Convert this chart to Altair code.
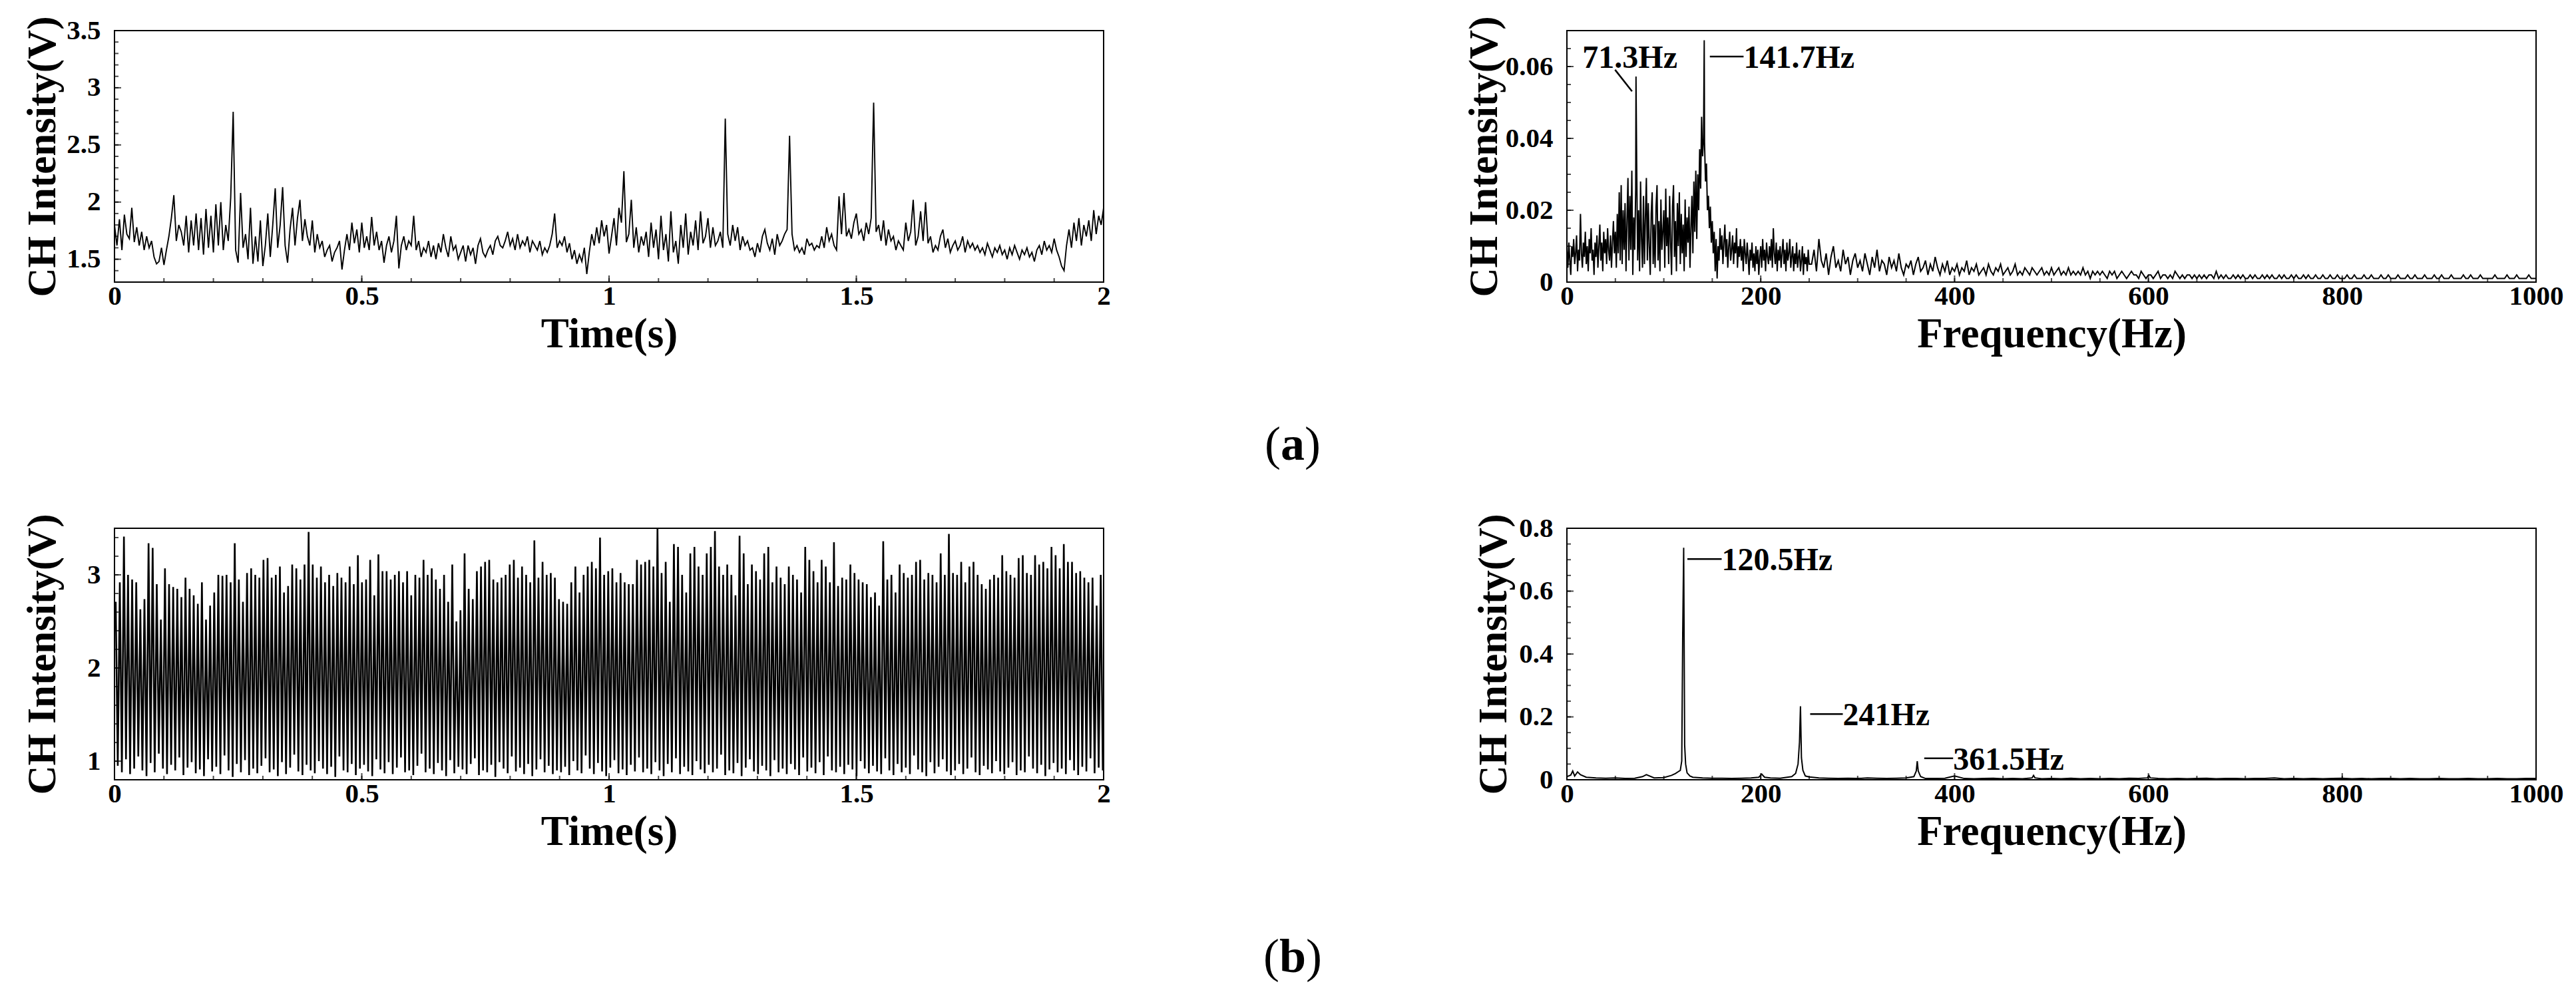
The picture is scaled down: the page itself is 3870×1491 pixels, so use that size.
import altair as alt
import numpy as np
import pandas as pd

FONT = "Liberation Serif"

# ---------------- (a) time signal, sampled every 0.005 s ----------------
ta_dt = 0.005
ta_values = [
    1.80,1.62,1.85,1.58,1.89,1.72,1.68,1.95,1.65,1.78,1.62,1.74,1.58,1.70,1.60,1.66,1.52,1.46,1.48,1.60,
    1.45,1.58,1.70,1.86,2.06,1.66,1.80,1.74,1.62,1.88,1.56,1.84,1.62,1.90,1.58,1.86,1.54,1.94,1.60,1.88,
    1.56,1.98,1.62,2.00,1.58,1.80,1.66,2.04,2.79,1.58,1.47,2.08,1.60,1.72,1.50,1.95,1.46,1.70,1.48,1.84,
    1.44,1.62,1.90,1.52,1.80,2.12,1.60,1.80,2.13,1.62,1.47,1.76,1.95,1.62,1.86,2.02,1.66,1.85,1.70,1.62,
    1.84,1.56,1.72,1.60,1.66,1.52,1.58,1.62,1.48,1.56,1.60,1.66,1.41,1.58,1.72,1.58,1.82,1.64,1.76,1.56,
    1.82,1.60,1.70,1.58,1.87,1.62,1.74,1.58,1.66,1.47,1.62,1.70,1.56,1.66,1.88,1.42,1.62,1.70,1.58,1.66,
    1.62,1.88,1.58,1.66,1.52,1.60,1.56,1.66,1.52,1.62,1.50,1.64,1.56,1.72,1.60,1.52,1.70,1.58,1.62,1.50,
    1.56,1.62,1.48,1.62,1.54,1.60,1.46,1.62,1.68,1.56,1.52,1.58,1.62,1.54,1.66,1.70,1.62,1.60,1.66,1.74,
    1.62,1.68,1.58,1.72,1.60,1.66,1.62,1.70,1.56,1.66,1.62,1.58,1.66,1.54,1.60,1.56,1.62,1.72,1.90,1.60,
    1.66,1.62,1.70,1.56,1.64,1.50,1.58,1.46,1.54,1.48,1.60,1.37,1.56,1.72,1.62,1.78,1.64,1.84,1.70,1.80,
    1.55,1.70,1.86,1.62,1.95,1.82,2.27,1.65,1.72,2.02,1.60,1.78,1.56,1.70,1.62,1.74,1.52,1.82,1.60,1.76,
    1.50,1.88,1.58,1.72,1.48,1.92,1.56,1.66,1.46,1.80,1.60,1.90,1.54,1.74,1.62,1.84,1.58,1.92,1.64,1.70,
    1.86,1.60,1.78,1.62,1.66,1.74,1.60,2.73,1.72,1.62,1.80,1.66,1.78,1.58,1.70,1.62,1.66,1.58,1.60,1.52,
    1.64,1.56,1.70,1.76,1.64,1.58,1.68,1.54,1.72,1.62,1.66,1.72,1.76,2.58,1.72,1.58,1.62,1.56,1.60,1.54,
    1.68,1.62,1.64,1.58,1.62,1.60,1.70,1.60,1.78,1.66,1.72,1.62,1.58,2.05,1.72,2.08,1.70,1.76,1.68,1.82,
    1.90,1.72,1.76,1.66,1.82,1.72,1.86,2.87,1.74,1.80,1.66,1.84,1.62,1.76,1.66,1.70,1.58,1.66,1.62,1.58,
    1.82,1.66,1.74,2.02,1.62,1.70,1.92,1.66,2.00,1.64,1.70,1.56,1.62,1.58,1.70,1.76,1.60,1.68,1.56,1.62,
    1.66,1.58,1.62,1.70,1.56,1.66,1.60,1.64,1.58,1.62,1.56,1.60,1.54,1.64,1.58,1.52,1.60,1.56,1.62,1.54,
    1.58,1.50,1.60,1.54,1.62,1.56,1.50,1.58,1.54,1.60,1.52,1.56,1.48,1.58,1.62,1.54,1.66,1.58,1.62,1.56,
    1.68,1.58,1.52,1.44,1.40,1.62,1.76,1.60,1.82,1.66,1.86,1.62,1.80,1.70,1.84,1.66,1.93,1.72,1.88,1.80,
    1.95,
]

# ---------------- (b) time signal: one crest and one trough per 120.5 Hz cycle ----------------
tb_freq = 120.5
tb_peaks = [
    2.71,2.92,3.41,3.00,2.95,2.92,2.63,2.74,3.34,3.29,2.90,2.52,
    3.07,2.90,2.87,2.85,2.76,2.97,2.85,2.78,2.69,2.92,2.52,2.67,
    2.81,3.00,2.99,3.00,2.92,3.34,2.95,2.71,3.02,3.07,3.00,2.97,
    3.16,3.18,2.97,3.00,3.09,2.81,2.88,3.11,3.07,2.95,3.11,3.46,
    3.11,2.97,3.09,2.92,3.00,2.88,3.02,2.97,2.92,3.09,2.90,3.21,
    2.92,2.95,3.16,2.78,3.22,3.04,3.04,2.95,3.00,3.04,2.92,3.04,
    2.78,3.00,2.97,3.16,3.00,3.07,2.95,2.85,3.00,2.71,3.11,2.50,
    2.62,3.23,2.85,2.74,3.04,3.09,3.14,3.16,2.95,2.92,2.97,3.00,
    3.11,3.16,2.97,3.09,3.00,2.92,3.37,2.97,3.14,3.00,3.02,2.97,
    2.74,2.71,2.69,2.92,3.09,2.81,3.00,3.09,3.14,3.07,3.40,3.00,
    3.04,3.07,2.92,3.02,2.92,2.90,2.90,3.16,3.11,3.14,3.16,3.09,
    3.50,3.02,3.14,2.71,3.33,3.30,3.00,2.81,3.23,3.30,3.09,3.00,
    3.23,3.30,3.47,3.09,3.00,3.11,3.00,2.78,3.42,3.23,2.90,3.11,
    3.04,2.95,3.23,3.30,2.92,3.09,2.97,2.90,3.09,3.00,2.95,2.81,
    3.30,3.16,3.04,2.92,3.16,3.09,2.92,3.35,2.88,2.97,2.95,3.11,
    3.02,2.95,2.92,2.90,2.76,2.81,2.67,3.36,2.95,3.00,2.81,3.11,
    3.02,2.97,3.00,3.14,3.16,2.95,3.02,3.00,2.92,3.23,3.00,3.44,
    3.02,3.00,3.14,2.92,3.09,3.14,3.00,2.90,2.85,2.95,3.00,2.97,
    3.21,3.04,3.00,2.97,3.18,3.21,3.02,3.00,3.21,3.11,3.14,3.07,
    3.30,3.21,3.07,3.33,3.14,3.14,3.02,3.04,2.97,2.92,2.97,2.67,3.00,
]
tb_troughs = [
    0.95,0.88,1.02,0.86,0.92,1.05,0.90,0.84,0.98,0.88,1.08,0.92,
    0.86,0.96,0.90,1.04,0.85,0.93,0.99,0.87,0.91,0.84,1.02,0.89,
    0.94,0.86,1.06,0.90,0.83,0.97,0.88,1.01,0.85,0.92,0.87,0.95,
    1.03,0.88,0.91,0.84,0.99,0.86,0.93,1.07,0.89,0.85,0.96,0.90,
    0.87,1.00,0.92,0.86,0.94,0.83,1.05,0.90,0.88,0.97,0.85,0.92,
    0.96,0.89,0.84,1.02,0.91,0.87,0.99,0.86,0.93,1.04,0.88,0.90,
    0.85,0.95,1.08,0.88,0.92,0.86,0.98,0.90,0.84,1.01,0.87,0.94,
    0.91,0.86,0.97,1.03,0.85,0.90,0.88,0.96,0.83,0.99,0.92,0.87,
    1.05,0.89,0.93,0.86,0.97,0.84,0.91,1.02,0.88,0.95,0.86,0.90,
    0.88,0.94,0.85,1.00,0.90,0.87,1.06,0.92,0.86,0.98,0.89,0.84,
    0.93,1.01,0.87,0.91,0.85,0.96,0.89,1.04,0.88,0.92,0.86,0.99,
    0.90,0.84,0.97,0.88,1.03,0.86,0.94,0.89,0.85,1.00,0.91,0.87,
    0.96,0.88,0.92,1.07,0.85,0.90,0.87,0.98,0.84,0.93,1.02,0.89,
    0.86,0.95,0.90,0.84,1.01,0.88,0.92,0.86,0.97,0.91,0.85,1.04,
    0.89,0.93,0.87,0.99,0.85,1.05,0.90,0.88,0.94,0.86,0.96,0.91,
    0.84,1.00,0.92,0.87,0.95,0.89,0.86,1.03,0.90,0.85,0.97,0.88,
    0.93,0.86,1.06,0.91,0.88,0.84,0.99,0.87,0.94,1.02,0.89,0.85,
    0.90,0.97,0.86,0.92,1.04,0.88,0.85,0.95,0.91,0.87,1.00,0.89,
    0.86,0.93,0.99,0.85,0.90,0.88,1.05,0.92,0.87,0.96,0.84,0.91,
    0.98,0.88,0.92,0.86,1.01,0.90,0.85,0.94,0.89,1.03,0.87,0.93,0.90,
]

# ---------------- (a) spectrum ----------------
fa_low_step = 1.0      # 0 .. 250 Hz
fa_low = [
    0.009,0.004,0.011,0.006,0.002,0.010,0.007,0.012,0.005,0.008,
    0.013,0.003,0.009,0.006,0.019,0.008,0.004,0.011,0.007,0.014,
    0.005,0.010,0.003,0.012,0.008,0.015,0.006,0.009,0.002,0.011,
    0.007,0.013,0.004,0.010,0.016,0.006,0.011,0.003,0.014,0.008,
    0.012,0.005,0.015,0.009,0.006,0.013,0.004,0.011,0.017,0.008,
    0.014,0.004,0.019,0.008,0.025,0.006,0.027,0.005,0.020,0.009,
    0.022,0.003,0.017,0.029,0.006,0.024,0.009,0.031,0.002,0.018,
    0.009,0.026,0.033,0.006,0.020,0.003,0.028,0.012,0.004,0.024,
    0.005,0.018,0.029,0.006,0.022,0.010,0.002,0.019,0.025,0.005,
    0.016,0.004,0.021,0.027,0.006,0.017,0.003,0.023,0.009,0.014,
    0.020,0.004,0.026,0.010,0.018,0.005,0.024,0.011,0.002,0.021,
    0.027,0.007,0.017,0.003,0.022,0.010,0.025,0.005,0.019,0.008,
    0.016,0.003,0.023,0.007,0.018,0.011,0.021,0.004,0.015,0.024,
    0.008,0.028,0.014,0.031,0.012,0.030,0.020,0.037,0.026,0.046,
    0.035,0.040,0.039,0.028,0.033,0.020,0.024,0.015,0.021,0.011,
    0.017,0.008,0.014,0.003,0.012,0.001,0.010,0.006,0.015,0.009,
    0.013,0.005,0.011,0.016,0.007,0.012,0.004,0.010,0.014,0.006,
    0.009,0.013,0.005,0.011,0.008,0.015,0.004,0.010,0.007,0.012,
    0.006,0.010,0.003,0.012,0.008,0.005,0.011,0.007,0.002,0.009,
    0.006,0.011,0.004,0.008,0.003,0.010,0.005,0.009,0.002,0.007,
    0.010,0.004,0.012,0.006,0.009,0.003,0.011,0.007,0.005,0.010,
    0.006,0.012,0.004,0.015,0.008,0.005,0.011,0.003,0.009,0.006,
    0.010,0.004,0.008,0.012,0.005,0.009,0.003,0.011,0.006,0.008,
    0.012,0.004,0.007,0.010,0.003,0.008,0.005,0.011,0.004,0.007,
    0.009,0.003,0.006,0.010,0.002,0.008,0.005,0.007,0.003,0.009,
    0.005,
]
fa_high_start = 252.5  # 252.5 .. 1000 Hz
fa_high_step = 2.5
fa_high = [
    0.005,0.009,0.003,0.012,0.006,0.004,0.008,0.002,0.007,0.010,0.004,0.006,0.003,0.009,0.005,0.007,0.002,0.006,0.008,0.004,
    0.006,0.003,0.008,0.005,0.002,0.007,0.004,0.009,0.003,0.006,0.005,0.002,0.007,0.004,0.006,0.003,0.008,0.004,0.002,0.005,
    0.004,0.006,0.002,0.005,0.007,0.003,0.004,0.006,0.002,0.005,0.003,0.007,0.004,0.002,0.005,0.003,0.006,0.002,0.004,0.003,
    0.005,0.002,0.004,0.003,0.006,0.002,0.004,0.003,0.005,0.002,0.003,0.004,0.002,0.005,0.003,0.002,0.004,0.003,0.005,0.002,
    0.003,0.004,0.002,0.003,0.005,0.002,0.003,0.002,0.004,0.003,0.002,0.004,0.003,0.002,0.003,0.004,0.002,0.003,0.002,0.004,
    0.002,0.003,0.004,0.002,0.003,0.002,0.004,0.002,0.003,0.002,0.003,0.002,0.004,0.002,0.003,0.001,0.003,0.002,0.003,0.002,
    0.003,0.002,0.001,0.003,0.002,0.003,0.001,0.002,0.003,0.002,0.001,0.002,0.003,0.002,0.002,0.001,0.003,0.002,0.001,0.002,
    0.002,0.001,0.002,0.003,0.001,0.002,0.002,0.001,0.002,0.001,0.003,0.002,0.001,0.002,0.001,0.002,0.002,0.001,0.002,0.001,
    0.002,0.001,0.002,0.001,0.002,0.002,0.001,0.003,0.001,0.002,0.001,0.002,0.001,0.001,0.002,0.001,0.002,0.001,0.002,0.001,
    0.001,0.002,0.001,0.002,0.001,0.001,0.002,0.001,0.002,0.001,0.002,0.001,0.001,0.002,0.001,0.002,0.001,0.001,0.002,0.001,
    0.002,0.001,0.001,0.002,0.001,0.002,0.001,0.001,0.002,0.001,0.001,0.002,0.001,0.001,0.002,0.001,0.001,0.002,0.001,0.001,
    0.001,0.002,0.001,0.001,0.002,0.001,0.001,0.001,0.002,0.001,0.001,0.002,0.001,0.001,0.001,0.002,0.001,0.001,0.002,0.001,
    0.001,0.001,0.002,0.001,0.001,0.001,0.002,0.001,0.001,0.002,0.001,0.001,0.001,0.002,0.001,0.001,0.001,0.002,0.001,0.001,
    0.002,0.001,0.001,0.001,0.002,0.001,0.001,0.001,0.001,0.002,0.001,0.001,0.002,0.001,0.001,0.001,0.002,0.001,0.001,0.001,
    0.001,0.001,0.002,0.001,0.001,0.001,0.001,0.002,0.001,0.001,0.001,0.002,0.001,0.001,0.001,0.001,0.002,0.001,0.001,0.001,
]
fa_peak_f = [71.3, 141.7]
fa_peak_a = [0.0572, 0.0673]

# ---------------- (b) spectrum ----------------
fb_base_step = 10.0    # 0 .. 1000 Hz
fb_base = [
    0.010,0.012,0.008,0.006,0.005,0.006,0.004,0.005,0.008,0.006,
    0.007,0.012,0.015,0.008,0.006,0.005,0.005,0.004,0.005,0.006,
    0.014,0.006,0.005,0.008,0.010,0.009,0.006,0.005,0.004,0.005,
    0.004,0.006,0.005,0.004,0.005,0.006,0.007,0.004,0.004,0.005,
    0.012,0.004,0.003,0.004,0.005,0.003,0.004,0.003,0.004,0.003,
    0.004,0.003,0.005,0.003,0.004,0.003,0.004,0.003,0.005,0.004,
    0.006,0.004,0.003,0.004,0.003,0.004,0.005,0.003,0.004,0.004,
    0.003,0.004,0.004,0.006,0.003,0.004,0.003,0.004,0.003,0.004,
    0.005,0.003,0.004,0.003,0.004,0.004,0.003,0.004,0.003,0.003,
    0.004,0.003,0.003,0.004,0.003,0.003,0.004,0.003,0.003,0.004,
    0.004,
]
fb_peak_f = [4, 6, 8, 11, 14, 78, 82, 108, 112, 115, 117, 118.5, 119.5, 120.5, 121.5, 122.5, 124, 127,
             198, 201, 204, 232, 236, 238.5, 240, 241, 242, 243.5, 246, 358, 360.5, 361.5, 362.5, 365,
             480, 481.5, 483, 599, 600.5, 602]
fb_peak_a = [0.015, 0.028, 0.012, 0.025, 0.016, 0.010, 0.016, 0.014, 0.020, 0.026, 0.030, 0.060, 0.460,
             0.738, 0.110, 0.050, 0.022, 0.012, 0.008, 0.018, 0.008, 0.010, 0.020, 0.050, 0.120, 0.234,
             0.070, 0.030, 0.012, 0.010, 0.028, 0.059, 0.028, 0.010, 0.006, 0.014, 0.006, 0.006, 0.014,
             0.006]

# ---------------- annotations ----------------
ann_a_text = ["71.3Hz", "141.7Hz"]
ann_a_x = [16.0, 182.3]
ann_a_y = [0.0597, 0.0597]
lead_a_x = [49.7, 147.5]
lead_a_x2 = [67.2, 182.3]
lead_a_y = [0.0591, 0.0628]
lead_a_y2 = [0.0531, 0.0628]

ann_b_text = ["120.5Hz", "241Hz", "361.5Hz"]
ann_b_x = [159.7, 284.7, 398.5]
ann_b_y = [0.666, 0.173, 0.031]
lead_b_x = [124.3, 251.0, 368.7]
lead_b_x2 = [159.7, 284.7, 398.5]
lead_b_y = [0.702, 0.209, 0.068]

panel_letters = ["a", "b"]

# ---------------- axis ticks ----------------
t_major = [0, 0.5, 1, 1.5, 2]
t_minor = [round(0.1 * i, 1) for i in range(21)]
f_major = [0, 200, 400, 600, 800, 1000]
f_minor = [50 * i for i in range(21)]
ya_major = [1.5, 2, 2.5, 3, 3.5]
ya_minor = [round(1.3 + 0.1 * i, 1) for i in range(23)]
sa_major = [0, 0.02, 0.04, 0.06]
sa_minor = [round(0.005 * i, 3) for i in range(15)]
yb_major = [1, 2, 3]
yb_minor = [round(0.8 + 0.2 * i, 1) for i in range(14)]
sb_major = [0, 0.2, 0.4, 0.6, 0.8]
sb_minor = [round(0.05 * i, 2) for i in range(17)]

# ---------------- build tables ----------------
df_ta = pd.DataFrame({"t": np.round(np.arange(len(ta_values)) * ta_dt, 4), "v": ta_values})

tb_t, tb_v = [], []
for k, (p, q) in enumerate(zip(tb_peaks, tb_troughs)):
    tb_t += [(k + 0.3) / tb_freq, (k + 0.8) / tb_freq]
    tb_v += [p, q]
df_tb = pd.DataFrame({"t": tb_t, "v": tb_v})

fa_f = [i * fa_low_step for i in range(len(fa_low))] + \
       [fa_high_start + i * fa_high_step for i in range(len(fa_high))] + fa_peak_f
fa_a = fa_low + fa_high + fa_peak_a
df_fa = pd.DataFrame({"f": fa_f, "a": fa_a}).sort_values("f")

fb_f, fb_a = [], []
for i, a in enumerate(fb_base):
    f = i * fb_base_step
    if min(abs(f - g) for g in fb_peak_f) >= 3:
        fb_f.append(f)
        fb_a.append(a)
df_fb = pd.DataFrame({"f": fb_f + fb_peak_f, "a": fb_a + fb_peak_a}).sort_values("f")

W_L, W_R, H = 1486, 1456, 378
XTITLE_DY = 97


def make_panel(df, xf, yf, xdom, ydom, xmaj, xmin, ymaj, ymin, xtitle, xfmt, yfmt, w, h,
               ytitle_x, line_w, extra):
    xs = alt.Scale(domain=xdom, nice=False, zero=False)
    ys = alt.Scale(domain=ydom, nice=False, zero=False)
    xa = alt.Axis(values=xmaj, format=xfmt, title=xtitle, labelPadding=1,
                  titleX=w / 2, titleY=XTITLE_DY, titleAlign="center", titleBaseline="alphabetic",
                  titleFontSize=63)
    ya = alt.Axis(values=ymaj, format=yfmt, title="CH Intensity(V)", labelPadding=21,
                  titleX=ytitle_x, titleY=h / 2, titleAlign="center",
                  titleBaseline="alphabetic", titleAngle=270)

    def X(field=xf):
        return alt.X(f"{field}:Q", scale=xs, axis=xa, title=xtitle)

    def Y(field=yf):
        return alt.Y(f"{field}:Q", scale=ys, axis=ya, title="CH Intensity(V)")

    layers = [alt.Chart(df).mark_line(color="black", strokeWidth=line_w, clip=True).encode(x=X(), y=Y())]
    for vals, ln in ((xmin, 6), (xmaj, 10)):
        d = pd.DataFrame({xf: vals})
        layers.append(alt.Chart(d).mark_tick(color="black", thickness=2, size=ln, orient="vertical").encode(
            x=X(), y=alt.value(h - ln / 2)))
    for vals, ln in ((ymin, 6), (ymaj, 10)):
        d = pd.DataFrame({yf: vals})
        layers.append(alt.Chart(d).mark_tick(color="black", thickness=2, size=ln, orient="horizontal").encode(
            y=Y(), x=alt.value(ln / 2)))
    for kind, payload in extra:
        if kind == "ann":
            texts, xs_, ys_, lx, lx2, ly, ly2 = payload
            dl = pd.DataFrame({xf: lx, "x2": lx2, yf: ly, "y2": ly2})
            layers.append(alt.Chart(dl).mark_rule(color="black", strokeWidth=2.5).encode(
                x=X(), x2="x2:Q", y=Y(), y2="y2:Q"))
            dt = pd.DataFrame({xf: xs_, yf: ys_, "s": texts})
            layers.append(alt.Chart(dt).mark_text(align="left", baseline="alphabetic", font=FONT,
                                                  fontSize=48, fontWeight="bold", color="black").encode(
                x=X(), y=Y(), text="s:N"))
        elif kind == "label":
            letter, xc, ybase, half = payload
            d = pd.DataFrame({"l": ["("], "m": [letter], "r": [")"]})
            common = dict(font=FONT, fontSize=72, baseline="alphabetic", color="black")
            layers.append(alt.Chart(d).mark_text(align="right", fontWeight="normal", **common).encode(
                x=alt.value(xc - half), y=alt.value(ybase), text="l:N"))
            layers.append(alt.Chart(d).mark_text(align="center", fontWeight="bold", **common).encode(
                x=alt.value(xc), y=alt.value(ybase), text="m:N"))
            layers.append(alt.Chart(d).mark_text(align="left", fontWeight="normal", **common).encode(
                x=alt.value(xc + half), y=alt.value(ybase), text="r:N"))
    return alt.layer(*layers).properties(width=w, height=h)


TL = make_panel(df_ta, "t", "v", [0, 2], [1.3, 3.5], t_major, t_minor, ya_major, ya_minor,
                "Time(s)", "~g", "~g", W_L, H, -90, 1.9,
                [("label", (panel_letters[0], 1770, 645, 18))])
TR = make_panel(df_fa, "f", "a", [0, 1000], [0, 0.07], f_major, f_minor, sa_major, sa_minor,
                "Frequency(Hz)", "d", "~g", W_R, H, -106, 2.0,
                [("ann", (ann_a_text, ann_a_x, ann_a_y, lead_a_x, lead_a_x2, lead_a_y, lead_a_y2))])
BL = make_panel(df_tb, "t", "v", [0, 2], [0.8, 3.5], t_major, t_minor, yb_major, yb_minor,
                "Time(s)", "~g", "~g", W_L, H, -90, 2.6,
                [("label", (panel_letters[1], 1770, 667, 20))])
BR = make_panel(df_fb, "f", "a", [0, 1000], [0, 0.8], f_major, f_minor, sb_major, sb_minor,
                "Frequency(Hz)", "d", "~g", W_R, H, -92, 2.0,
                [("ann", (ann_b_text, ann_b_x, ann_b_y, lead_b_x, lead_b_x2, lead_b_y, lead_b_y))])

chart = alt.concat(
    TL, TR, BL, BR, columns=2, spacing={"row": 370, "column": 696}, bounds="flush",
    padding={"left": 23, "top": 15, "right": 5, "bottom": 5},
).configure_view(
    stroke="black", strokeWidth=2
).configure_axis(
    labelFont=FONT, labelFontSize=41, labelFontWeight="bold", labelColor="black",
    titleFont=FONT, titleFontSize=61, titleFontWeight="bold", titleColor="black",
    domain=False, ticks=False, tickSize=0, grid=False,
    labelFlush=False, labelOverlap=False, labelBound=False,
).properties(background="white")

chart.save("out.html", embed_options={"renderer": "svg", "actions": False})
